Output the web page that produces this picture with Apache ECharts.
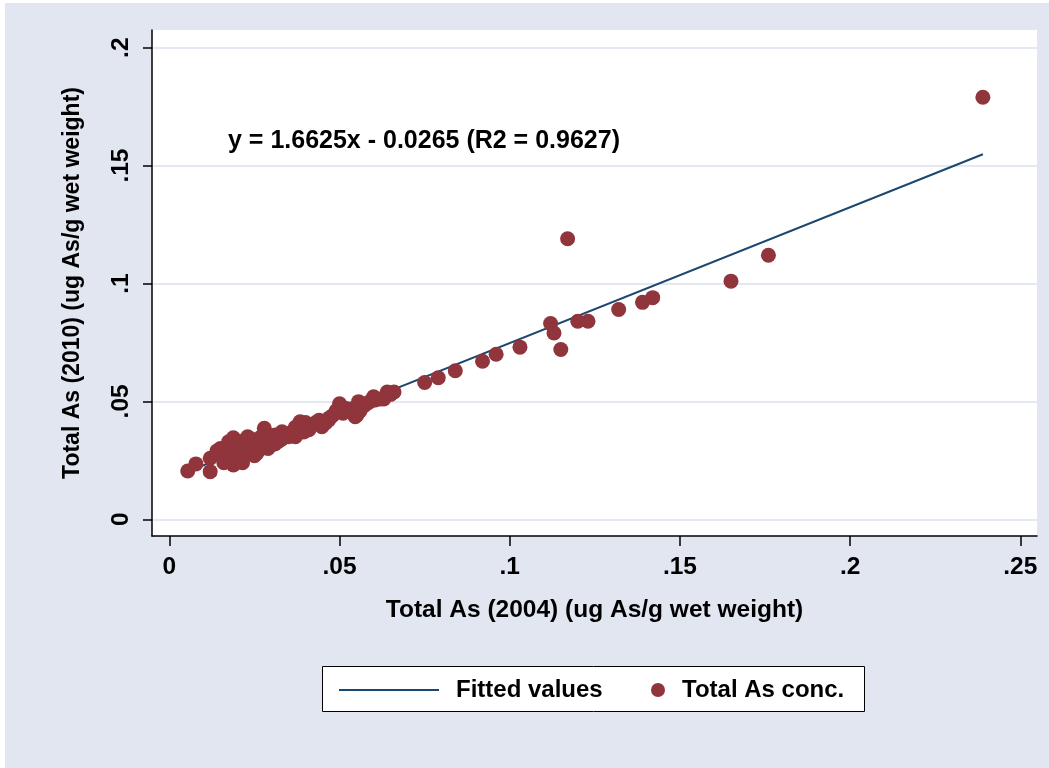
<!DOCTYPE html>
<html>
<head>
<meta charset="utf-8">
<script src="https://cdn.jsdelivr.net/npm/echarts@6/dist/echarts.min.js"></script>
<style>
html,body{margin:0;padding:0;background:#fff;}
#c{width:1049px;height:768px;}
</style>
</head>
<body>
<div id="c"></div>
<script>
// Total As (2004) values
const x2004 = [
  0.239,0.176,0.165,0.142,0.139,0.132,0.123,0.120,0.117,0.112,0.113,0.115,0.103,0.096,0.092,0.084,0.079,0.075,
  0.066,0.064,0.062,0.0605,
  0.0054,0.0078,0.012,0.012,0.0144,0.0174,0.0188,0.0188,0.0208,0.0223,0.0237,0.0257,0.0272,0.0279,0.0301,0.0311,
  0.0331,0.0370,0.0384,0.0409,0.0448,0.0468,0.0502,0.0546,0.0556,0.0551,
  0.015,0.016,0.018,0.019,0.020,0.021,0.022,0.023,0.024,0.025,0.026,0.027,0.028,0.029,0.030,0.032,0.034,0.036,
  0.038,0.040,0.042,0.044,0.046,0.048,0.049,0.051,0.052,0.053,0.057,0.058,0.059,0.063,0.065,0.0395,0.031,0.019,0.017,
  0.014,0.016,0.018,0.020,0.020,0.022,0.023,0.024,0.025,0.026,0.027,0.028,0.029,0.030,0.033,0.035,0.037,0.041,
  0.043,0.047,0.050,0.054,0.056,0.060,0.0215
];
// Total As (2010) values
const y2010 = [
  0.179,0.112,0.101,0.094,0.092,0.089,0.084,0.084,0.119,0.083,0.079,0.072,0.073,0.070,0.067,0.063,0.060,0.058,
  0.054,0.054,0.051,0.0506,
  0.0205,0.0235,0.0202,0.0259,0.0276,0.0329,0.0346,0.0230,0.0244,0.0287,0.0343,0.0280,0.0322,0.0386,0.0315,0.0357,
  0.0371,0.0350,0.0414,0.0400,0.0393,0.0421,0.0478,0.0435,0.0499,0.0442,
  0.030,0.027,0.031,0.029,0.028,0.033,0.030,0.032,0.029,0.033,0.031,0.035,0.033,0.030,0.034,0.033,0.036,0.037,
  0.038,0.041,0.040,0.042,0.041,0.044,0.046,0.045,0.047,0.046,0.048,0.049,0.050,0.051,0.053,0.037,0.032,0.025,0.026,
  0.029,0.024,0.028,0.031,0.025,0.027,0.035,0.031,0.027,0.034,0.030,0.037,0.035,0.032,0.034,0.035,0.039,0.038,
  0.041,0.043,0.049,0.047,0.046,0.052,0.024
];
// Fitted values line endpoints
const fitX = [0.005, 0.239];
const fitY = [0.0200, 0.1548];
// Tick values
const xTicks = [0, 0.05, 0.1, 0.15, 0.2, 0.25];
const yTicks = [0, 0.05, 0.1, 0.15, 0.2];
const annotation = 'y = 1.6625x - 0.0265 (R2 = 0.9627)';

const fmt = v => (v === 0 ? '0' : String(+v.toFixed(3)).replace(/^0\./, '.'));
const FONT = '"Liberation Sans", Arial, sans-serif';
const lineColor = '#1a476f';
const dotColor = '#90353b';
const FS = 24.5;

const chart = echarts.init(document.getElementById('c'), null, {renderer: 'canvas'});
chart.setOption({
  backgroundColor: '#ffffff',
  animation: false,
  graphic: [
    {type: 'rect', z: -10, shape: {x: 5, y: 3, width: 1044, height: 765}, style: {fill: '#e1e6f0'}},
    {type: 'rect', z: 5, shape: {x: 322.5, y: 666.5, width: 542, height: 45}, style: {fill: '#fff', stroke: '#000', lineWidth: 1}},
    {type: 'text', z: 50, left: 228, top: 129, style: {text: annotation, fill: '#000', font: 'bold 25px ' + FONT}}
  ],
  grid: {left: 152, top: 30, right: 12, bottom: 232, show: true, backgroundColor: '#fff', borderWidth: 0},
  xAxis: {
    type: 'value', min: -0.0051, max: 0.2549,
    name: 'Total As (2004) (ug As/g wet weight)', nameLocation: 'middle', nameGap: 62,
    nameTextStyle: {fontFamily: FONT, fontWeight: 'bold', fontSize: FS, color: '#000'},
    axisLine: {show: true, onZero: false, lineStyle: {color: '#000', width: 1.5}},
    axisTick: {show: true, length: 10, customValues: xTicks, lineStyle: {color: '#000', width: 1.5}},
    axisLabel: {customValues: xTicks, formatter: fmt, margin: 19, fontFamily: FONT, fontWeight: 'bold', fontSize: FS, color: '#000'},
    splitLine: {show: false}
  },
  yAxis: {
    type: 'value', min: -0.00708, max: 0.2075,
    name: 'Total As (2010) (ug As/g wet weight)', nameLocation: 'middle', nameGap: 68,
    nameTextStyle: {fontFamily: FONT, fontWeight: 'bold', fontSize: 23, color: '#000'},
    axisLine: {show: true, onZero: false, lineStyle: {color: '#000', width: 1.5}},
    axisTick: {show: true, length: 9, customValues: yTicks, lineStyle: {color: '#000', width: 1.5}},
    axisLabel: {customValues: yTicks, formatter: fmt, rotate: 90, margin: 18, fontFamily: FONT, fontWeight: 'bold', fontSize: FS, color: '#000'},
    splitLine: {show: true, lineStyle: {color: '#e3e8f1', width: 2}}
  },
  legend: [
    {left: 334, top: 673, itemWidth: 100, itemHeight: 14, data: [{name: 'Fitted values', icon: 'path://M0,6 L100,6 L100,8 L0,8 Z'}],
     textStyle: {fontFamily: FONT, fontWeight: 'bold', fontSize: 24, color: '#000', padding: [6, 0, 0, 12]}, z: 10},
    {left: 646, top: 673, itemWidth: 14, itemHeight: 14, data: [{name: 'Total As conc.', icon: 'circle'}],
     textStyle: {fontFamily: FONT, fontWeight: 'bold', fontSize: 24, color: '#000', padding: [6, 0, 0, 12]}, z: 10}
  ],
  series: [
    {
      name: 'Fitted values', type: 'line', z: 2, symbol: 'none',
      data: fitX.map((x, i) => [x, fitY[i]]),
      lineStyle: {color: lineColor, width: 2}, itemStyle: {color: lineColor}
    },
    {
      name: 'Total As conc.', type: 'scatter', z: 3, symbolSize: 15,
      data: x2004.map((x, i) => [x, y2010[i]]),
      itemStyle: {color: dotColor, opacity: 1}
    }
  ]
});
</script>
</body>
</html>
